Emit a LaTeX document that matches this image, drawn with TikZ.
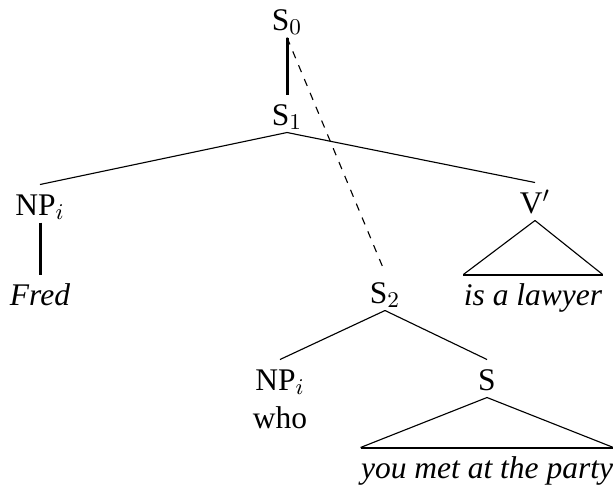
\documentclass[tikz,border=0pt]{standalone}
\usepackage{fontspec}
\setmainfont{Liberation Serif}
\usetikzlibrary{positioning}

\begin{document}
\begin{tikzpicture}[x=0.4pt, y=-0.4pt,
		cat/.style={anchor=base, inner sep=0pt, text height=12pt, text depth=2.8pt, font=\fontsize{12.6}{15}\selectfont},
		leaf/.style={cat, font=\fontsize{12.6}{15}\selectfont\itshape},
		branch/.style={line width=0.45pt},
		stem/.style={line width=1.2pt},
		roof/.style={line width=0.8pt}]
	\useasboundingbox (0,0) rectangle (613,489);
	% upper tree
	\node[cat] (s0) at (287,30) {S$_0$};
	\node[cat] (s1) at (287,125) {S$_1$};
	\node[cat] (np1) at (40,215) {NP$_i$};
	\node[leaf] (fred) at (40,305) {Fred};
	\node[cat] (vbar) at (535,213) {V$'$};
	\node[leaf] (lawyer) at (533,305) {is a lawyer};
	% relative clause
	\node[cat] (s2) at (385,303) {S$_2$};
	\node[cat] (np2) at (280,390) {NP$_i$};
	\node[cat, below=0pt of np2] (who) {who};
	\node[cat] (s3) at (487,390) {S};
	\node[leaf] (party) at (487,478) {you met at the party};
	% branches
	\draw[stem] (s0) -- (s1);
	\draw[branch] (s1.south) -- (np1.north);
	\draw[branch] (s1.south) -- (vbar.north);
	\draw[stem] (np1) -- (fred);
	\draw[branch] (vbar.south) -- (lawyer.north west);
	\draw[branch] (vbar.south) -- (lawyer.north east);
	\draw[roof] (lawyer.north west) -- (lawyer.north east);
	\draw[branch, dashed] (s0.south) -- (s2.north);
	\draw[branch] (s2.south) -- (np2.north);
	\draw[branch] (s2.south) -- (s3.north);
	\draw[branch] (s3.south) -- (party.north west);
	\draw[branch] (s3.south) -- (party.north east);
	\draw[roof] (party.north west) -- (party.north east);
\end{tikzpicture}
\end{document}
